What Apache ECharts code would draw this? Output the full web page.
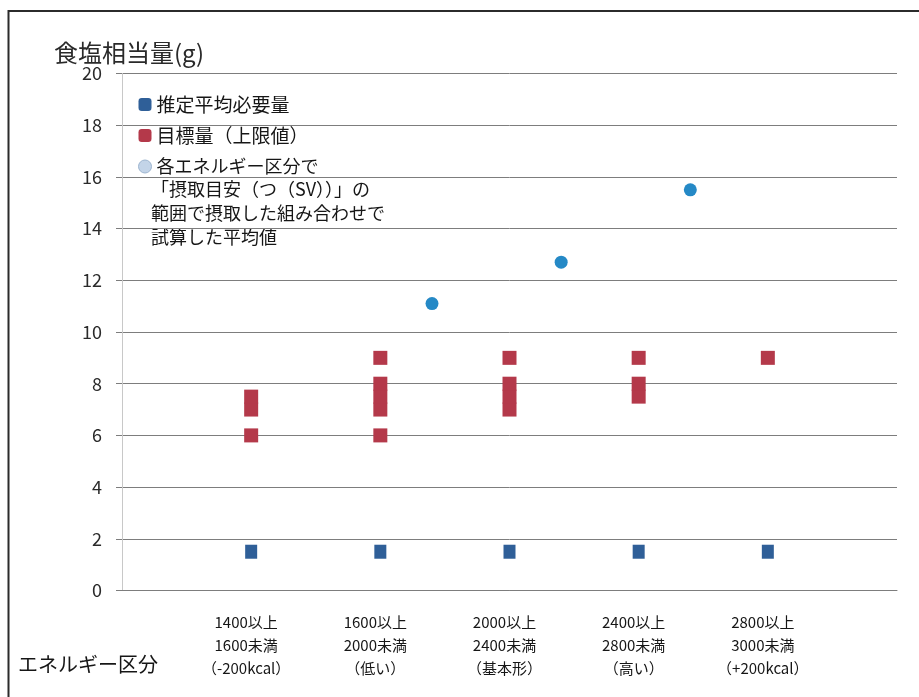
<!DOCTYPE html>
<html>
<head>
<meta charset="utf-8">
<script src="https://cdn.jsdelivr.net/npm/echarts@6/dist/echarts.min.js"></script>
<style>
  html, body { margin: 0; padding: 0; background: #fff; }
  #chart { width: 919px; height: 697px; }
</style>
</head>
<body>
<div id="chart"></div>
<script>
// エネルギー区分（x = 1..5）
const categoryLabels = [
  '1400以上\n1600未満\n（-200kcal）',
  '1600以上\n2000未満\n（低い）',
  '2000以上\n2400未満\n（基本形）',
  '2400以上\n2800未満\n（高い）',
  '2800以上\n3000未満\n（+200kcal）'
];
const categoryX = [1, 2, 3, 4, 5];

// 推定平均必要量 (g)
const earValues = [1.5, 1.5, 1.5, 1.5, 1.5];

// 目標量（上限値）(g)：区分ごとの値
const dgValues = [
  [6.0, 7.0, 7.5],
  [6.0, 7.0, 7.5, 8.0, 9.0],
  [7.0, 7.5, 8.0, 9.0],
  [7.5, 8.0, 9.0],
  [9.0]
];

// 摂取目安の範囲で摂取した組み合わせでの試算平均値
const svAvgX = [2.4, 3.4, 4.4];
const svAvgValues = [11.1, 12.7, 15.5];

const yTicks = { min: 0, max: 20, interval: 2 };

const seriesNames = [
  '推定平均必要量',
  '目標量（上限値）',
  '各エネルギー区分で\n「摂取目安（つ（SV））」の\n範囲で摂取した組み合わせで\n試算した平均値'
];
const xAxisTitle = 'エネルギー区分';
const yAxisTitle = '食塩相当量(g)';

const earData = categoryX.map((x, i) => [x, earValues[i]]);
const dgData = [];
categoryX.forEach((x, i) => dgValues[i].forEach(v => dgData.push([x, v])));
const svData = svAvgX.map((x, i) => [x, svAvgValues[i]]);

const FONT = '"Noto Sans CJK JP", "Noto Sans", sans-serif';
const GRID_COLOR = '#7d7d7d';
const TEXT_COLOR = '#161616';

const chart = echarts.init(document.getElementById('chart'));
chart.setOption({
  backgroundColor: '#ffffff',
  animation: false,
  textStyle: { fontFamily: FONT },
  grid: {
    left: 122, right: 22, top: 73.5, bottom: 106.5,
    containLabel: false,
    outerBoundsMode: 'none'
  },
  legend: {
    orient: 'vertical',
    left: 133,
    top: 89,
    itemGap: 10,
    itemWidth: 13,
    itemHeight: 13,
    textStyle: { fontSize: 19, color: TEXT_COLOR, lineHeight: 21, fontFamily: FONT },
    formatter: name => name.split('\n')[0],
    data: [
      { name: seriesNames[0], icon: 'roundRect', itemStyle: { color: '#2f5f98', opacity: 1 } },
      { name: seriesNames[1], icon: 'roundRect', itemStyle: { color: '#b4394a', opacity: 1 } },
      { name: seriesNames[2], icon: 'circle',
        textStyle: { fontSize: 18 },
        itemStyle: { color: '#c3d4e8', borderColor: '#9db5d0', borderWidth: 1, opacity: 1 } }
    ]
  },
  graphic: [
    {
      type: 'rect',
      shape: { x: 8.5, y: 11, width: 940, height: 720 },
      style: { fill: 'none', stroke: '#2b2b2b', lineWidth: 2 },
      silent: true
    },
    {
      type: 'text',
      left: 151,
      top: 177,
      style: {
        text: seriesNames[2].split('\n').slice(1).join('\n'),
        font: '18px ' + FONT,
        lineHeight: 24,
        fill: TEXT_COLOR
      },
      silent: true
    },
    {
      type: 'text',
      left: 18,
      top: 654,
      style: {
        text: xAxisTitle,
        font: '20px ' + FONT,
        fill: TEXT_COLOR
      },
      silent: true
    }
  ],
  xAxis: {
    type: 'value',
    min: 0,
    max: 6,
    interval: 1,
    axisLine: { show: true, lineStyle: { color: GRID_COLOR, width: 1 } },
    axisTick: { show: false },
    splitLine: { show: false },
    axisLabel: {
      margin: 20,
      fontSize: 15,
      lineHeight: 23,
      color: TEXT_COLOR,
      align: 'center',
      verticalAlign: 'top',
      padding: [0, 10, 0, 0],
      formatter: v => {
        const i = categoryX.indexOf(v);
        return i >= 0 ? categoryLabels[i] : '';
      }
    }
  },
  yAxis: {
    type: 'value',
    min: yTicks.min,
    max: yTicks.max,
    interval: yTicks.interval,
    name: yAxisTitle,
    nameLocation: 'end',
    nameGap: 9,
    nameTextStyle: { fontSize: 24, color: '#2a2a2a', padding: [0, 0, 0, 14], fontFamily: FONT },
    axisLine: { show: true, lineStyle: { color: '#c8c8c8', width: 1 } },
    axisTick: { show: true, length: 6, lineStyle: { color: GRID_COLOR } },
    axisLabel: { fontSize: 18, color: '#2a2a2a', margin: 20 },
    splitLine: { show: true, lineStyle: { color: GRID_COLOR, width: 1 } }
  },
  series: [
    {
      name: seriesNames[0],
      type: 'scatter',
      symbol: 'rect',
      symbolSize: [12, 14],
      itemStyle: { color: '#2f5f98', opacity: 1 },
      data: earData,
      z: 3
    },
    {
      name: seriesNames[1],
      type: 'scatter',
      symbol: 'rect',
      symbolSize: 14,
      itemStyle: { color: '#b4394a', opacity: 1 },
      data: dgData,
      z: 3
    },
    {
      name: seriesNames[2],
      type: 'scatter',
      symbol: 'circle',
      symbolSize: 13,
      itemStyle: { color: '#2589c6', opacity: 1 },
      data: svData,
      z: 3
    }
  ]
});
</script>
</body>
</html>
